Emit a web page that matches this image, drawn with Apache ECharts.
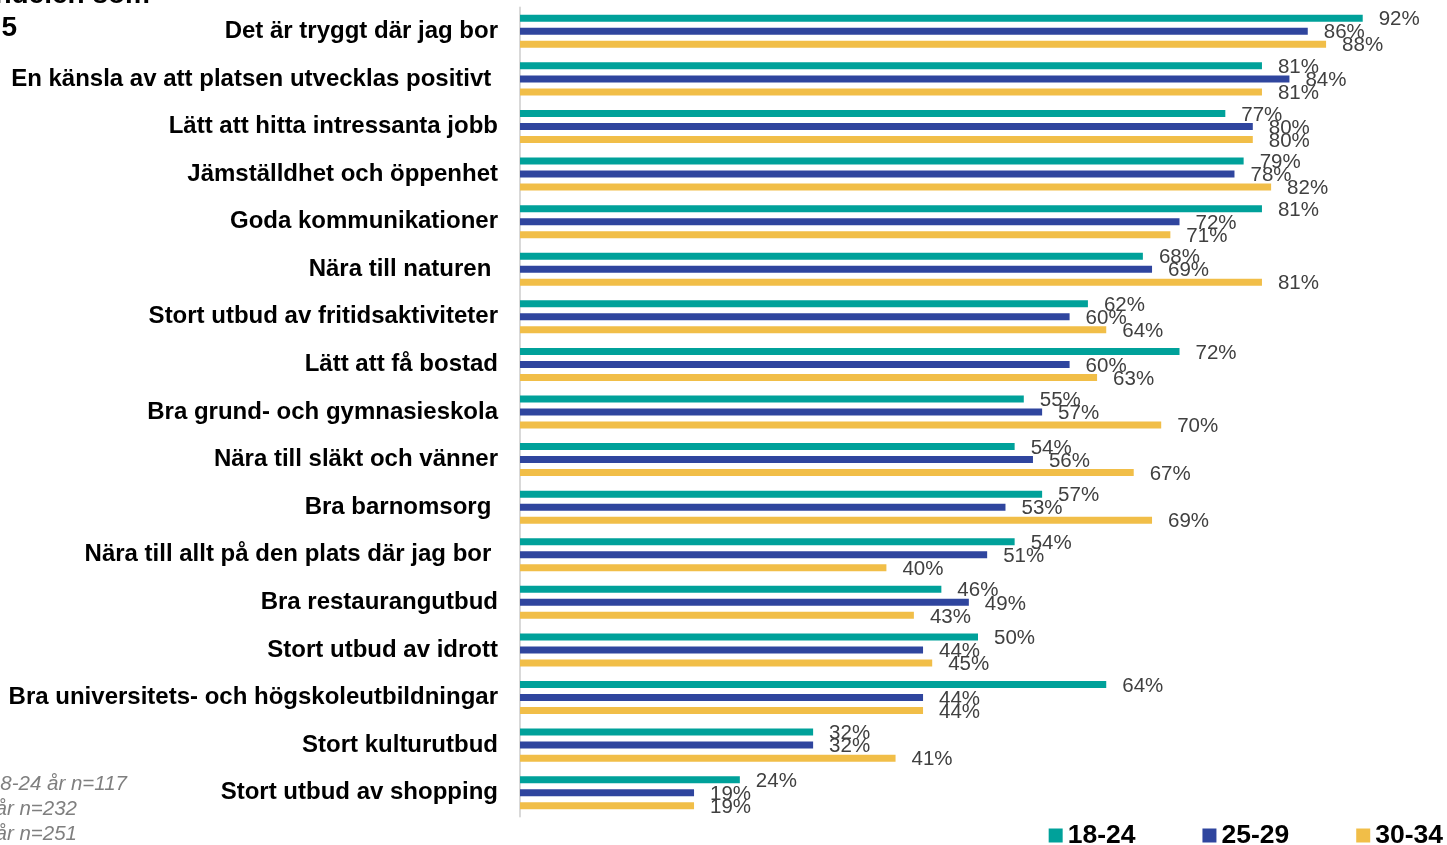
<!DOCTYPE html>
<html>
<head>
<meta charset="utf-8">
<script src="https://cdn.jsdelivr.net/npm/echarts@6/dist/echarts.min.js"></script>
<style>
html,body{margin:0;padding:0;background:#fff;}
#c{width:1447px;height:845px;}
</style>
</head>
<body>
<div id="c"></div>
<script>
const categories = [
  "Det är tryggt där jag bor",
  "En känsla av att platsen utvecklas positivt ",
  "Lätt att hitta intressanta jobb",
  "Jämställdhet och öppenhet",
  "Goda kommunikationer",
  "Nära till naturen ",
  "Stort utbud av fritidsaktiviteter",
  "Lätt att få bostad",
  "Bra grund- och gymnasieskola",
  "Nära till släkt och vänner",
  "Bra barnomsorg ",
  "Nära till allt på den plats där jag bor ",
  "Bra restaurangutbud",
  "Stort utbud av idrott",
  "Bra universitets- och högskoleutbildningar",
  "Stort kulturutbud",
  "Stort utbud av shopping"
];
const seriesNames = ["18-24", "25-29", "30-34"];
const v1824 = [92, 81, 77, 79, 81, 68, 62, 72, 55, 54, 57, 54, 46, 50, 64, 32, 24];
const v2529 = [86, 84, 80, 78, 72, 69, 60, 60, 57, 56, 53, 51, 49, 44, 44, 32, 19];
const v3034 = [88, 81, 80, 82, 71, 81, 64, 63, 70, 67, 69, 40, 43, 45, 44, 41, 19];
const notes = ["18-24 år n=117", "25-29 år n=232", "30-34 år n=251"];
const titleLines = ["Andelen som", "5"];
const colors = ["#00A19A", "#2F459E", "#F1BE48"];

const FF = 'Liberation Sans, Arial, sans-serif';
const chart = echarts.init(document.getElementById('c'));
const mk = (name, data, color) => ({
  name: name,
  type: 'bar',
  data: data,
  barWidth: 7,
  barGap: '86%',
  itemStyle: {color: color},
  label: {
    show: true,
    position: 'right',
    distance: 16,
    offset: [0, 1.5],
    formatter: '{c}%',
    color: '#404040',
    fontFamily: FF,
    fontSize: 20.5
  }
});
chart.setOption({
  animation: false,
  textStyle: {fontFamily: FF},
  grid: {left: 520, right: 11, top: 7.5, height: 809},
  xAxis: {
    type: 'value', min: 0, max: 100,
    show: false, splitLine: {show: false}
  },
  yAxis: {
    type: 'category', data: categories, inverse: true,
    axisLine: {show: true, lineStyle: {color: '#d9d9d9', width: 2}},
    axisTick: {show: false},
    axisLabel: {
      margin: 22, color: '#000', fontWeight: 'bold', fontSize: 24,
      fontFamily: FF
    }
  },
  legend: {
    right: -1, top: 817,
    itemWidth: 14, itemHeight: 14, itemGap: 67,
    icon: 'rect',
    data: seriesNames,
    textStyle: {fontSize: 26.5, fontWeight: 'bold', color: '#000', fontFamily: FF}
  },
  graphic: [
    {type: 'text', x: 150, y: 9, style: {text: titleLines[0], fontSize: 28, fontWeight: 'bold', fill: '#000', textAlign: 'right', textVerticalAlign: 'bottom', fontFamily: FF}},
    {type: 'text', x: 17, y: 28, style: {text: titleLines[1], fontSize: 28, fontWeight: 'bold', fill: '#000', textAlign: 'right', textVerticalAlign: 'middle', fontFamily: FF}},
    {type: 'text', x: 127, y: 784, style: {text: notes[0], fontSize: 20.5, fontStyle: 'italic', fill: '#7f7f7f', textAlign: 'right', textVerticalAlign: 'middle', fontFamily: FF}},
    {type: 'text', x: 77, y: 809, style: {text: notes[1], fontSize: 20.5, fontStyle: 'italic', fill: '#7f7f7f', textAlign: 'right', textVerticalAlign: 'middle', fontFamily: FF}},
    {type: 'text', x: 77, y: 834, style: {text: notes[2], fontSize: 20.5, fontStyle: 'italic', fill: '#7f7f7f', textAlign: 'right', textVerticalAlign: 'middle', fontFamily: FF}}
  ],
  series: [
    mk(seriesNames[0], v1824, colors[0]),
    mk(seriesNames[1], v2529, colors[1]),
    mk(seriesNames[2], v3034, colors[2])
  ]
});
</script>
</body>
</html>
